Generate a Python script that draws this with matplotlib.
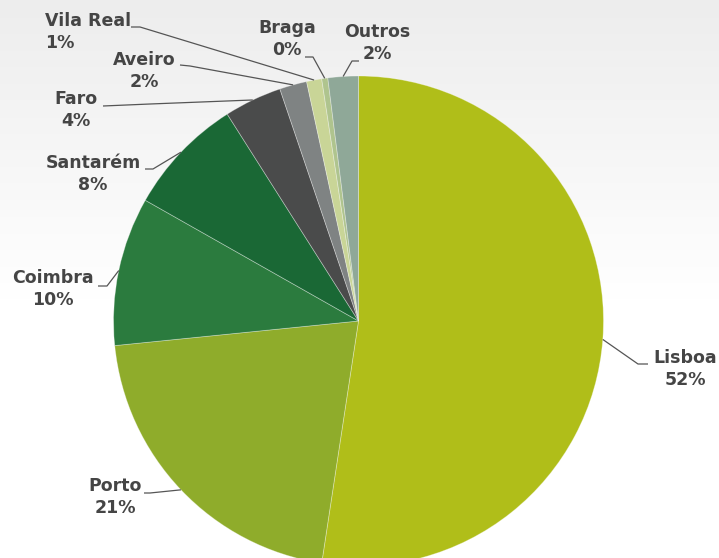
import numpy as np
import matplotlib
matplotlib.use("Agg")
import matplotlib.pyplot as plt
from matplotlib.colors import LinearSegmentedColormap

# ---- data ----
regions = ["Lisboa", "Porto", "Coimbra", "Santarém", "Faro", "Aveiro", "Vila Real", "Braga", "Outros"]
shares = [52.4, 21.0, 9.8, 7.8, 3.8, 1.8, 1.0, 0.4, 2.0]
colors = ["#B0BE19", "#8FAC2B", "#2B7B3E", "#1A6835", "#4A4B4B", "#7F8383", "#C9D597", "#AFC48E", "#8FA898"]

# label layout (pixel coordinates, y measured from top)
label_pos = {
    "Lisboa":    (685, 369, "center"),
    "Porto":     (115, 497, "center"),
    "Coimbra":   (53, 289, "center"),
    "Santarém":  (93, 174, "center"),
    "Faro":      (76, 110, "center"),
    "Aveiro":    (144, 71, "center"),
    "Vila Real": (45, 32, "left"),
    "Braga":     (287, 39, "center"),
    "Outros":    (377, 43, "center"),
}
leader = {  # elbow, end
    "Lisboa":    [(638, 364), (648, 364)],
    "Porto":     [(150, 493), (144, 493)],
    "Coimbra":   [(107, 286), (98, 286)],
    "Santarém":  [(153, 169), (145, 169)],
    "Faro":      [(150, 104), (103, 106)],
    "Aveiro":    [(190, 66), (180, 65)],
    "Vila Real": [(140, 27), (131, 27)],
    "Braga":     [(313, 57), (305, 57)],
    "Outros":    [(352, 61), (359, 61)],
}

W, H = 719, 558
fig = plt.figure(figsize=(W / 100, H / 100), dpi=100)
ax = fig.add_axes([0, 0, 1, 1])

# background gradient (grey at top fading to white)
ys = np.arange(H)
grad = np.clip(ys / 300.0, 0, 1).reshape(-1, 1)
cmap = LinearSegmentedColormap.from_list("bg", ["#EDEDED", "#FFFFFF"])
ax.imshow(grad, extent=[0, W, 0, H], aspect="auto", cmap=cmap, zorder=0, origin="upper")

cx, cy, R = 358.5, H - 321, 245
wedges, _ = ax.pie(shares, colors=colors, startangle=90, counterclock=False,
                   center=(cx, cy), radius=R, frame=True,
                   wedgeprops=dict(linewidth=0.6, edgecolor=(1, 1, 1, 0.35)))
ax.set_xlim(0, W)
ax.set_ylim(0, H)
ax.set_aspect("equal")
ax.axis("off")
for w in wedges:
    w.set_zorder(2)

txt_color = "#454545"
total = sum(shares)
for name, w in zip(regions, wedges):
    theta = np.deg2rad((w.theta1 + w.theta2) / 2)
    ex, ey = cx + R * np.cos(theta), cy + R * np.sin(theta)
    pts = [(ex, ey)] + [(px, H - py) for px, py in leader[name]]
    xs, yv = zip(*pts)
    ax.plot(xs, yv, color="#555555", lw=0.9, zorder=3, solid_capstyle="butt")
    tx, ty, ha = label_pos[name]
    pct = 100 * shares[regions.index(name)] / total
    ax.text(tx, H - ty, f"{name}\n{pct:.0f}%", ha=ha, va="center", multialignment=ha,
            fontsize=12.5, fontweight="bold", color=txt_color, family="DejaVu Sans",
            linespacing=1.25, zorder=4)

fig.savefig("out.png", dpi=100)
